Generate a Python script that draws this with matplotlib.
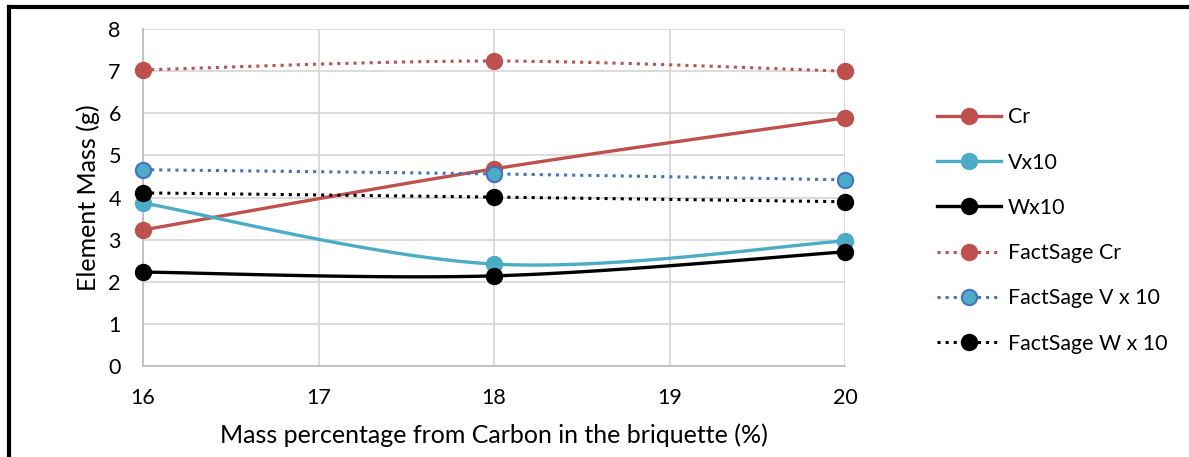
import numpy as np
import matplotlib
matplotlib.use("Agg")
import matplotlib.pyplot as plt
from matplotlib.lines import Line2D

plt.rcParams['font.family'] = ['Lato', 'DejaVu Sans']

carbon = [16, 18, 20]
cr = [3.23, 4.68, 5.89]
v_x10 = [3.87, 2.42, 2.97]
w_x10 = [2.23, 2.14, 2.71]
fs_cr = [7.03, 7.24, 7.00]
fs_v = [4.66, 4.56, 4.42]
fs_w = [4.11, 4.01, 3.90]


def smooth(xs, ys, n=40):
    # Catmull-Rom style curve through the points, like a spreadsheet smoothed line
    p = np.column_stack([xs, ys]).astype(float)
    p = np.vstack([p[0], p, p[-1]])
    out = []
    for i in range(1, len(p) - 2):
        p0, p1, p2, p3 = p[i - 1], p[i], p[i + 1], p[i + 2]
        c1 = p1 + (p2 - p0) / 6
        c2 = p2 - (p3 - p1) / 6
        t = np.linspace(0, 1, n)[:, None]
        seg = ((1 - t) ** 3) * p1 + 3 * ((1 - t) ** 2) * t * c1 + 3 * (1 - t) * t ** 2 * c2 + t ** 3 * p2
        out.append(seg if i == 1 else seg[1:])
    out = np.vstack(out)
    return out[:, 0], out[:, 1]


fig = plt.figure(figsize=(11.89, 4.57), dpi=100)
ax = fig.add_axes([0.1203, 0.1991, 0.5904, 0.7374])

red = "#C0504D"
teal = "#4BACC6"
blue = "#4472C4"

series = [
    ("Cr", cr, red, red, red, "-"),
    ("Vx10", v_x10, teal, teal, teal, "-"),
    ("Wx10", w_x10, "black", "black", "black", "-"),
    ("FactSage Cr", fs_cr, red, red, red, ":"),
    ("FactSage V x 10", fs_v, blue, teal, blue, ":"),
    ("FactSage W x 10", fs_w, "black", "black", "black", ":"),
]

handles = []
for label, ys, lc, fc, ec, ls in series:
    sx, sy = smooth(carbon, ys)
    lw = 2.4 if ls == "-" else 2.2
    ax.plot(sx, sy, color=lc, lw=lw, ls=ls, zorder=3, clip_on=False)
    ax.plot(carbon, ys, ls="none", marker="o", ms=11, mfc=fc, mec=ec, mew=1.5,
            zorder=4, clip_on=False)
    handles.append(Line2D([0], [0], color=lc, lw=lw, ls=ls, marker="o", ms=11,
                          mfc=fc, mec=ec, mew=1.5))

ax.set_xlim(16, 20)
ax.set_ylim(0, 8)
ax.set_xticks([16, 17, 18, 19, 20])
ax.set_yticks(range(0, 9))
ax.grid(True, color="#D9D9D9", lw=1.3)
ax.set_axisbelow(True)
for s in ["top", "right"]:
    ax.spines[s].set_visible(False)
ax.spines["left"].set_color("#BFBFBF")
ax.spines["bottom"].set_color("#BFBFBF")
ax.spines["left"].set_linewidth(1.3)
ax.spines["bottom"].set_linewidth(1.3)
ax.tick_params(length=0, labelsize=15.5, colors="black")
ax.tick_params(axis="x", pad=16)
ax.tick_params(axis="y", pad=16)
ax.set_xlabel("Mass percentage from Carbon in the briquette (%)", fontsize=18, labelpad=11)
ax.set_ylabel("Element Mass (g)", fontsize=18, labelpad=6)

fig.legend(handles, [s[0] for s in series], loc="center left",
           bbox_to_anchor=(0.788, 0.4956), frameon=False, fontsize=15.4,
           handlelength=3.0, labelspacing=1.18, handletextpad=0.3,
           borderaxespad=0, borderpad=0)

# black frame along the top and left edges
fig.add_artist(Line2D([0.0075, 1.0], [0.9855, 0.9855], transform=fig.transFigure,
                      color="black", lw=3))
fig.add_artist(Line2D([0.0075, 0.0075], [0.0, 0.9855], transform=fig.transFigure,
                      color="black", lw=3))

fig.savefig("out.png", dpi=100)
